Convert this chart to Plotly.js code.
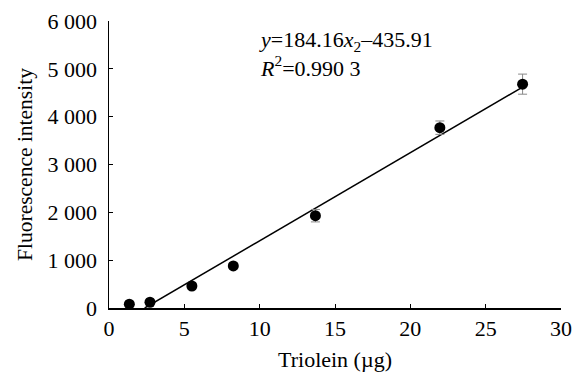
<!DOCTYPE html>
<html>
<head>
<meta charset="utf-8">
<script src="https://cdn.plot.ly/plotly-3.0.1.min.js"></script>
<style>html,body{margin:0;padding:0;background:#fff;}#chart{width:581px;height:372px;}</style>
</head>
<body>
<div id="chart"></div>
<script>
// Data
const trioleinUg = [1.35, 2.72, 5.5, 8.25, 13.7, 21.96, 27.45];
const fluorescence = [80, 120, 460, 880, 1930, 3770, 4680];
const errorSD = [20, 30, 60, 60, 130, 140, 210];
const fitSlope = 184.16;
const fitIntercept = -435.91;
const fitRange = [2.37, 27.45];
const xTickVals = [0, 5, 10, 15, 20, 25, 30];
const yTickVals = [0, 1000, 2000, 3000, 4000, 5000, 6000];
const yTickText = ["0", "1 000", "2 000", "3 000", "4 000", "5 000", "6 000"];

const fitY = fitRange.map(x => fitSlope * x + fitIntercept);
const font = "'Liberation Serif', 'Times New Roman', serif";

const traces = [
  {
    x: fitRange, y: fitY, type: 'scatter', mode: 'lines',
    line: {color: '#000', width: 1.5}, hoverinfo: 'skip', showlegend: false, cliponaxis: true
  },
  {
    x: trioleinUg, y: fluorescence, type: 'scatter', mode: 'markers',
    marker: {color: '#000', size: 11},
    error_y: {type: 'data', array: errorSD, visible: true, color: '#888', thickness: 1, width: 4.5},
    showlegend: false
  }
];

const layout = {
  width: 581, height: 372,
  margin: {l: 109, r: 20, t: 21, b: 64},
  paper_bgcolor: '#fff', plot_bgcolor: '#fff',
  font: {family: font, size: 22, color: '#000'},
  xaxis: {
    range: [0, 30], tickvals: xTickVals, ticks: 'inside', ticklen: 4, tickcolor: '#000',
    showline: true, linecolor: '#000', linewidth: 1.5, showgrid: false, zeroline: false,
    ticklabelstandoff: 0,
    tickfont: {family: font, size: 22, color: '#000'},
    title: {text: 'Triolein (µg)', font: {family: font, size: 22, color: '#000'}, standoff: 13}
  },
  yaxis: {
    range: [0, 6000], tickvals: yTickVals, ticktext: yTickText, ticks: 'inside', ticklen: 4, tickcolor: '#000',
    showline: true, linecolor: '#000', linewidth: 1.5, showgrid: false, zeroline: false,
    ticklabelstandoff: 6,
    tickfont: {family: font, size: 22, color: '#000'},
    title: {text: 'Fluorescence intensity', font: {family: font, size: 21.5, color: '#000'}, standoff: 9}
  },
  annotations: [{
    xref: 'x', yref: 'y', x: 9.85, y: 5920, xanchor: 'left', yanchor: 'top', align: 'left',
    showarrow: false,
    text: '<i>y</i>=184.16<i>x</i><sub>2</sub>–435.91<br><i>R</i><sup>2</sup>=0.990 3',
    font: {family: font, size: 22, color: '#000'}
  }]
};

Plotly.newPlot('chart', traces, layout, {displayModeBar: false, staticPlot: true});
</script>
</body>
</html>
